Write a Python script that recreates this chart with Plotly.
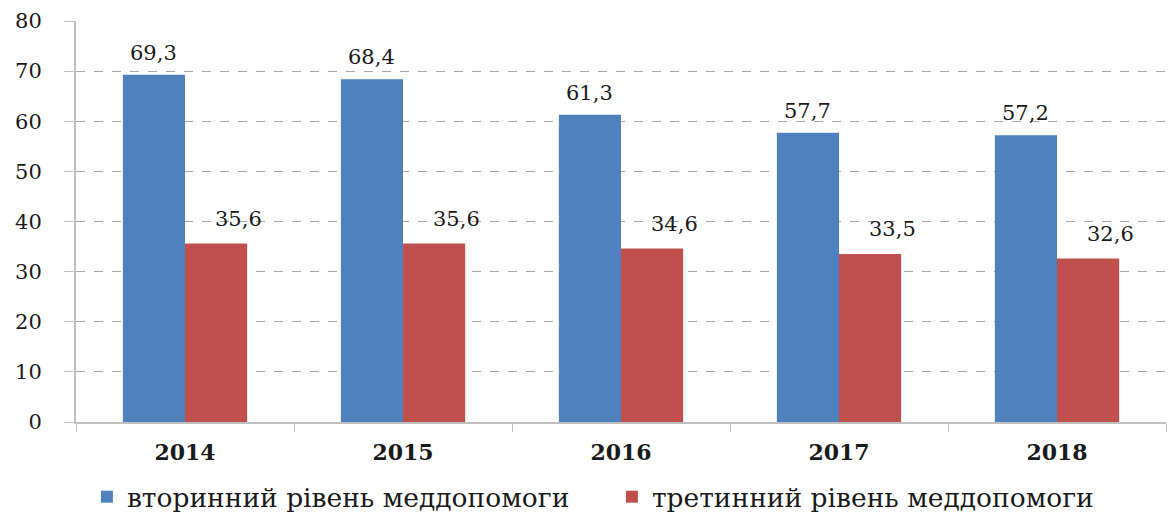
import plotly.graph_objects as go

years = ["2014", "2015", "2016", "2017", "2018"]
secondary = [69.3, 68.4, 61.3, 57.7, 57.2]
tertiary = [35.6, 35.6, 34.6, 33.5, 32.6]
names = ["вторинний рівень меддопомоги", "третинний рівень меддопомоги"]
y_ticks = [0, 10, 20, 30, 40, 50, 60, 70, 80]

def fmt(v):
    return f"{v:.1f}".replace(".", ",")

serif = "DejaVu Serif"
txt = "#1a1a1a"

fig = go.Figure()
fig.add_trace(go.Bar(x=years, y=secondary, name=names[0], marker_color="#4F81BD",
                     marker_line_width=0))
fig.add_trace(go.Bar(x=years, y=tertiary, name=names[1], marker_color="#C0504D",
                     marker_line_width=0))

annotations = []
for i, v in enumerate(secondary):
    annotations.append(dict(x=i, y=v, xref="x", yref="y", text=fmt(v), showarrow=False,
                            xanchor="center", yanchor="bottom", xshift=-32, yshift=8,
                            font=dict(family=serif, size=21, color=txt)))
for i, v in enumerate(tertiary):
    annotations.append(dict(x=i, y=v, xref="x", yref="y", text=fmt(v), showarrow=False,
                            xanchor="center", yanchor="bottom", xshift=53, yshift=11,
                            font=dict(family=serif, size=21, color=txt)))

fig.update_layout(
    width=1168, height=515,
    margin=dict(l=76, r=2, t=21, b=93),
    paper_bgcolor="white", plot_bgcolor="white",
    barmode="group", bargap=0.43, bargroupgap=0,
    font=dict(family=serif, color=txt),
    showlegend=True,
    legend=dict(orientation="h", x=0.01, xanchor="left",
                yref="container", y=0.035, yanchor="middle",
                font=dict(family=serif, size=26.5, color=txt),
                itemwidth=30, entrywidth=480, traceorder="normal"),
    annotations=annotations,
)
fig.update_xaxes(
    type="category", range=[-0.5, len(years) - 0.5],
    showline=True, linecolor="#BFBFBF", linewidth=2,
    ticks="outside", ticklen=8, tickcolor="#BFBFBF", tickson="boundaries",
    tickfont=dict(family=serif, size=22, color=txt, weight="bold"),
    ticklabelstandoff=10,
    showgrid=False, automargin=False,
)
fig.update_yaxes(
    range=[0, 80], tickvals=y_ticks, showline=True, linecolor="#BFBFBF", linewidth=2,
    ticks="outside", ticklen=10, tickcolor="#BFBFBF",
    tickfont=dict(family=serif, size=21, color=txt),
    ticklabelstandoff=18,
    showgrid=True, gridcolor="#A6A6A6", griddash="dash", gridwidth=1,
    zeroline=False, automargin=False,
)
fig.write_html("out.html", config={"displayModeBar": False},
               post_script="document.body.style.margin='0';document.body.style.overflow='hidden';")
